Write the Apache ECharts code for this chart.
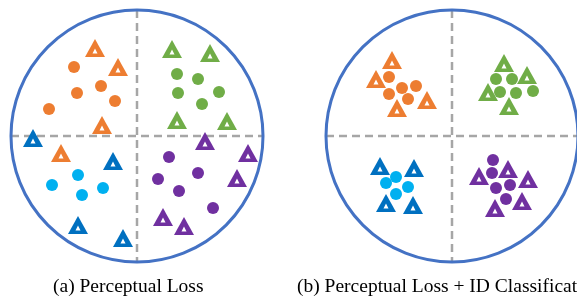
<!DOCTYPE html>
<html>
<head>
<meta charset="utf-8">
<script src="https://cdn.jsdelivr.net/npm/echarts@6/dist/echarts.min.js"></script>
<style>
html, body { margin: 0; padding: 0; background: #fff; }
#main { width: 577px; height: 296px; }
</style>
</head>
<body>
<div id="main"></div>
<script>
// panels: [cx, cy, r] in picture units
var panels = [[137, 136, 126], [452, 136, 126]];
var panelLabels = ['(a) Perceptual Loss', '(b) Perceptual Loss + ID Classification'];

// (a) perceptual loss only - scattered
var aOrangeTri = [[95, 48], [118, 67], [102, 125], [61, 153]];
var aOrangeDot = [[74, 67], [101, 86], [77, 93], [115, 101], [49, 109]];
var aGreenTri = [[172, 49], [210, 53], [177, 120], [227, 121]];
var aGreenDot = [[177, 74], [198, 79], [178, 93], [219, 92], [202, 104]];
var aBlueTri = [[33, 138], [113, 161], [78, 225], [123, 238]];
var aBlueDot = [[78, 175], [52, 185], [103, 188], [82, 195]];
var aPurpleTri = [[205, 141], [248, 153], [237, 178], [163, 217], [184, 226]];
var aPurpleDot = [[169, 157], [198, 173], [158, 179], [179, 191], [213, 208]];

// (b) + ID classification - compact clusters
var bOrangeTri = [[392, 60], [376, 79], [427, 100], [397, 108]];
var bOrangeDot = [[389, 77], [402, 88], [416, 86], [389, 94], [408, 99]];
var bGreenTri = [[504, 63], [527, 75], [488, 92], [509, 106]];
var bGreenDot = [[496, 79], [512, 79], [500, 92], [516, 93], [533, 91]];
var bBlueTri = [[380, 166], [414, 168], [386, 203], [413, 205]];
var bBlueDot = [[396, 177], [386, 183], [408, 187], [396, 194]];
var bPurpleTri = [[479, 176], [508, 169], [528, 179], [522, 201], [495, 208]];
var bPurpleDot = [[493, 160], [492, 173], [496, 188], [510, 185], [506, 199]];

var ORANGE = '#ED7D31', GREEN = '#70AD47', BLUE = '#0070C0', CYAN = '#00B0F0', PURPLE = '#7030A0';

var series = [];

series.push({
	type: 'custom',
	silent: true,
	data: panels,
	renderItem: function(params, api) {
		var c = api.coord([api.value(0), api.value(1)]);
		var r = api.size([api.value(2), 0])[0];
		var dash = { stroke: '#A6A6A6', lineWidth: 2.5, lineDash: [8, 5] };
		return {
			type: 'group',
			children: [{
				type: 'line',
				shape: { x1: c[0], y1: c[1] - r, x2: c[0], y2: c[1] + r },
				style: dash
			}, {
				type: 'line',
				shape: { x1: c[0] - r, y1: c[1], x2: c[0] + r, y2: c[1] },
				style: dash
			}, {
				type: 'circle',
				shape: { cx: c[0], cy: c[1], r: r },
				style: { fill: 'none', stroke: '#4472C4', lineWidth: 3 }
			}]
		};
	}
});

function addDots(data, color) {
	series.push({
		type: 'scatter',
		data: data,
		symbol: 'circle',
		symbolSize: 12,
		itemStyle: { color: color, opacity: 1 },
		silent: true
	});
}

function addTris(data, color) {
	series.push({
		type: 'scatter',
		data: data,
		symbol: 'triangle',
		symbolSize: [20, 18],
		itemStyle: { color: color, opacity: 1 },
		silent: true
	});
	series.push({
		type: 'scatter',
		data: data,
		symbol: 'triangle',
		symbolSize: [5, 5],
		symbolOffset: [0, 3],
		itemStyle: { color: '#fff', opacity: 1 },
		silent: true
	});
}

addDots(aOrangeDot, ORANGE); addTris(aOrangeTri, ORANGE);
addDots(aGreenDot, GREEN); addTris(aGreenTri, GREEN);
addDots(aBlueDot, CYAN); addTris(aBlueTri, BLUE);
addDots(aPurpleDot, PURPLE); addTris(aPurpleTri, PURPLE);
addDots(bOrangeDot, ORANGE); addTris(bOrangeTri, ORANGE);
addDots(bGreenDot, GREEN); addTris(bGreenTri, GREEN);
addDots(bBlueDot, CYAN); addTris(bBlueTri, BLUE);
addDots(bPurpleDot, PURPLE); addTris(bPurpleTri, PURPLE);

var chart = echarts.init(document.getElementById('main'));
chart.setOption({
	animation: false,
	title: [{
		text: panelLabels[0],
		left: 48, top: 272,
		textStyle: { fontFamily: 'Liberation Serif', fontSize: 19.5, fontWeight: 'normal', color: '#000' }
	}, {
		text: panelLabels[1],
		left: 292, top: 272,
		textStyle: { fontFamily: 'Liberation Serif', fontSize: 19.5, fontWeight: 'normal', color: '#000' }
	}],
	grid: { left: 0, right: 0, top: 0, bottom: 0 },
	xAxis: { type: 'value', min: 0, max: 577, show: false },
	yAxis: { type: 'value', min: 0, max: 296, inverse: true, show: false },
	series: series
});
</script>
</body>
</html>
